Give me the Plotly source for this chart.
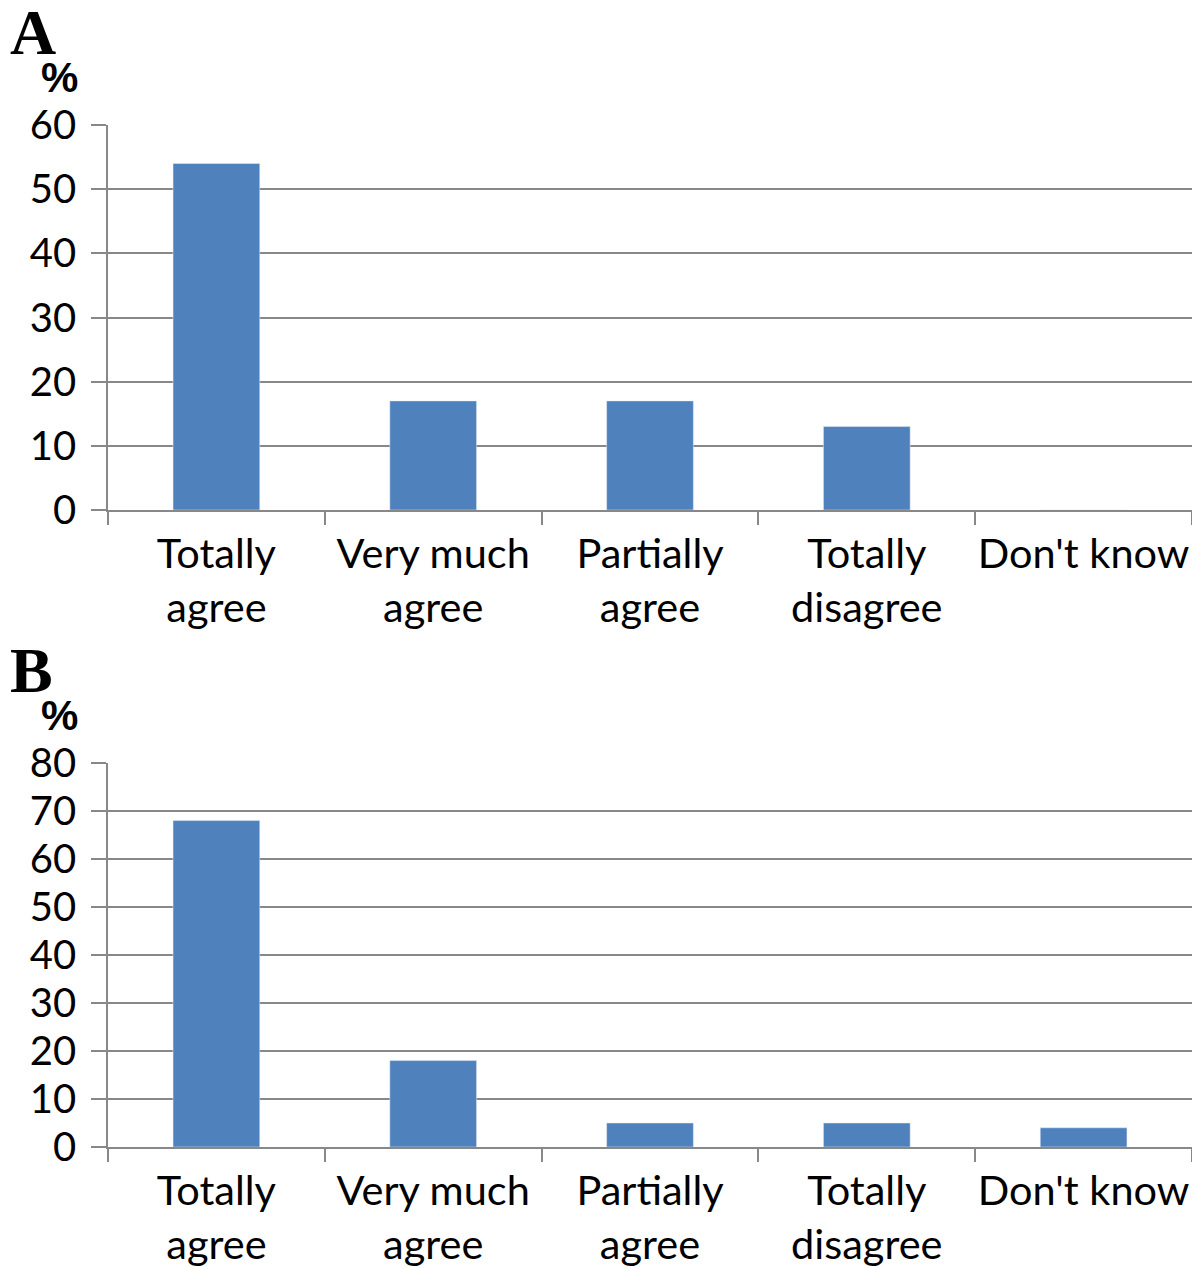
import plotly.graph_objects as go

categories = ["Totally<br>agree", "Very much<br>agree", "Partially<br>agree", "Totally<br>disagree", "Don't know"]
values_a = [54, 17, 17, 13, 0]
values_b = [68, 18, 5, 5, 4]
panel_labels = ["A", "B"]

BAR = "#4F81BD"
GRID = "#888888"
FONT = "Lato"

# page body has an 8px margin; work in reference-pixel coordinates shifted by 8
OFF = 8
W, H = 1200 - 2 * OFF, 1269 - OFF


def px(x):
    return (x - OFF) / W


def py(y):
    return 1 - (y - OFF) / H


panels = [(125, 510), (763, 1147)]  # reference top / bottom pixel of each plot area

fig = go.Figure()
fig.add_trace(go.Bar(x=categories, y=values_a, marker_color=BAR, xaxis="x", yaxis="y"))
fig.add_trace(go.Bar(x=categories, y=values_b, marker_color=BAR, xaxis="x2", yaxis="y2"))

xcommon = dict(
    showgrid=False, showline=True, linecolor=GRID, linewidth=1.5, automargin=False,
    ticks="outside", tickson="boundaries", ticklen=13, tickcolor=GRID, tickwidth=1.5,
    tickangle=0,
    tickfont=dict(family=FONT, size=41.5, color="black"), ticklabelstandoff=6,
    domain=[px(108), 1.0],
)
ycommon = dict(
    showgrid=True, gridcolor=GRID, gridwidth=1.5, zeroline=False, automargin=False,
    showline=True, linecolor=GRID, linewidth=1.5,
    ticks="outside", ticklen=15, tickcolor=GRID, tickwidth=1.5,
    tickfont=dict(family=FONT, size=40, color="black"), ticklabelstandoff=7,
    dtick=10,
)

fig.update_layout(
    width=W, height=H,
    margin=dict(l=0, r=0, t=0, b=0),
    paper_bgcolor="white", plot_bgcolor="white",
    showlegend=False, bargap=0.6,
    xaxis=dict(**xcommon, anchor="y"),
    yaxis=dict(**ycommon, domain=[py(panels[0][1]), py(panels[0][0])], range=[0, 60], anchor="x"),
    xaxis2=dict(**xcommon, anchor="y2"),
    yaxis2=dict(**ycommon, domain=[py(panels[1][1]), py(panels[1][0])], range=[0, 80], anchor="x2"),
)

for lab, (top, _) in zip(panel_labels, panels):
    fig.add_annotation(text=f"<b>{lab}</b>", xref="paper", yref="paper",
                       x=0.0, y=py(top - 130), xanchor="left", yanchor="top",
                       showarrow=False, font=dict(family="Liberation Serif", size=64, color="black"))
    fig.add_annotation(text="<b>%</b>", xref="paper", yref="paper",
                       x=px(80), y=py(top - 73), xanchor="right", yanchor="top",
                       showarrow=False, font=dict(family="Liberation Sans", size=42, color="black"))

fig.write_html("out.html")
